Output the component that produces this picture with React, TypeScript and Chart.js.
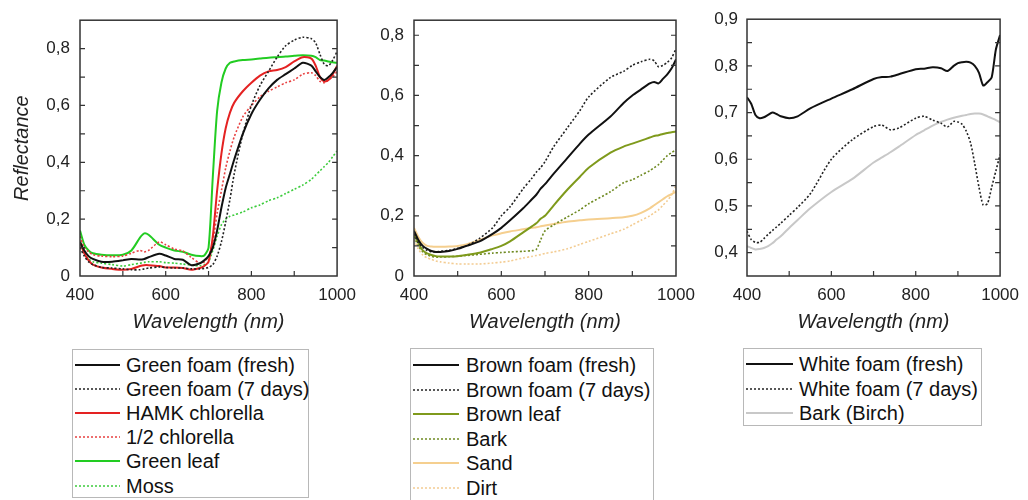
import React, { useEffect, useRef } from "react";
import { Chart, registerables } from "chart.js";

Chart.register(...registerables);

// ---------------- DATA ----------------
// Panel 1 wavelengths (nm)
const WL1 = [400, 410, 420, 430, 450, 475, 500, 520, 540, 550, 560, 585, 600, 620, 640, 660, 680, 690, 700, 710, 720, 730, 740, 750, 760, 780, 800, 820, 840, 860, 880, 900, 920, 940, 950, 960, 970, 980, 990, 1000];
const greenFoamFresh = [0.12, 0.09, 0.07, 0.06, 0.05, 0.05, 0.055, 0.06, 0.058, 0.06, 0.066, 0.078, 0.072, 0.06, 0.057, 0.038, 0.045, 0.055, 0.07, 0.10, 0.16, 0.24, 0.31, 0.36, 0.41, 0.50, 0.57, 0.62, 0.66, 0.69, 0.71, 0.73, 0.75, 0.74, 0.72, 0.70, 0.69, 0.70, 0.715, 0.735];
const greenFoam7 = [0.10, 0.07, 0.05, 0.04, 0.03, 0.028, 0.025, 0.022, 0.022, 0.025, 0.028, 0.032, 0.03, 0.028, 0.028, 0.025, 0.025, 0.027, 0.03, 0.04, 0.07, 0.12, 0.19, 0.27, 0.36, 0.50, 0.60, 0.67, 0.72, 0.77, 0.81, 0.83, 0.84, 0.835, 0.82, 0.78, 0.745, 0.74, 0.76, 0.79];
const hamkChlorella = [0.12, 0.08, 0.055, 0.04, 0.03, 0.025, 0.022, 0.025, 0.035, 0.038, 0.038, 0.035, 0.03, 0.03, 0.028, 0.022, 0.028, 0.035, 0.05, 0.14, 0.30, 0.43, 0.52, 0.575, 0.61, 0.65, 0.68, 0.705, 0.72, 0.725, 0.735, 0.755, 0.77, 0.765, 0.74, 0.70, 0.685, 0.69, 0.71, 0.74];
const halfChlorella = [0.14, 0.10, 0.085, 0.075, 0.07, 0.068, 0.07, 0.08, 0.09, 0.085, 0.09, 0.12, 0.11, 0.095, 0.088, 0.065, 0.045, 0.05, 0.07, 0.12, 0.22, 0.30, 0.38, 0.44, 0.49, 0.56, 0.60, 0.63, 0.65, 0.665, 0.68, 0.69, 0.71, 0.715, 0.705, 0.685, 0.68, 0.69, 0.70, 0.72];
const greenLeaf = [0.16, 0.11, 0.09, 0.08, 0.075, 0.073, 0.075, 0.09, 0.135, 0.15, 0.145, 0.11, 0.10, 0.09, 0.085, 0.075, 0.07, 0.072, 0.10, 0.35, 0.58, 0.68, 0.73, 0.75, 0.755, 0.76, 0.762, 0.765, 0.768, 0.77, 0.772, 0.775, 0.777, 0.775, 0.77, 0.76, 0.758, 0.755, 0.752, 0.75];
const moss = [0.12, 0.08, 0.06, 0.05, 0.045, 0.04, 0.035, 0.04, 0.045, 0.048, 0.05, 0.05, 0.047, 0.045, 0.042, 0.038, 0.036, 0.04, 0.05, 0.09, 0.14, 0.18, 0.20, 0.21, 0.215, 0.225, 0.24, 0.25, 0.265, 0.275, 0.29, 0.305, 0.32, 0.34, 0.355, 0.37, 0.385, 0.40, 0.42, 0.44];

// Panel 2 wavelengths (nm)
const WL2 = [400, 410, 420, 430, 440, 450, 460, 480, 500, 520, 550, 580, 600, 620, 650, 670, 680, 690, 700, 720, 750, 780, 800, 850, 880, 900, 920, 940, 950, 960, 970, 980, 990, 1000];
const brownFoamFresh = [0.15, 0.12, 0.10, 0.09, 0.083, 0.08, 0.08, 0.083, 0.09, 0.10, 0.115, 0.14, 0.16, 0.185, 0.225, 0.255, 0.27, 0.29, 0.305, 0.34, 0.39, 0.44, 0.47, 0.53, 0.575, 0.60, 0.62, 0.64, 0.645, 0.64, 0.655, 0.67, 0.69, 0.72];
const brownFoam7 = [0.14, 0.11, 0.095, 0.085, 0.08, 0.08, 0.082, 0.085, 0.092, 0.10, 0.125, 0.16, 0.20, 0.23, 0.29, 0.325, 0.345, 0.36, 0.38, 0.43, 0.49, 0.55, 0.595, 0.66, 0.68, 0.70, 0.712, 0.72, 0.715, 0.695, 0.70, 0.71, 0.725, 0.755];
const brownLeaf = [0.14, 0.11, 0.085, 0.075, 0.07, 0.066, 0.065, 0.065, 0.066, 0.07, 0.077, 0.09, 0.10, 0.115, 0.145, 0.165, 0.175, 0.19, 0.20, 0.235, 0.285, 0.33, 0.36, 0.41, 0.43, 0.44, 0.45, 0.46, 0.465, 0.468, 0.472, 0.475, 0.478, 0.48];
const bark = [0.13, 0.10, 0.08, 0.07, 0.065, 0.063, 0.063, 0.064, 0.066, 0.068, 0.072, 0.076, 0.078, 0.08, 0.082, 0.084, 0.088, 0.12, 0.15, 0.17, 0.195, 0.22, 0.24, 0.28, 0.31, 0.32, 0.335, 0.35, 0.36, 0.37, 0.385, 0.40, 0.41, 0.42];
const sand = [0.16, 0.13, 0.11, 0.10, 0.098, 0.097, 0.097, 0.098, 0.10, 0.105, 0.12, 0.135, 0.142, 0.148, 0.155, 0.16, 0.162, 0.165, 0.168, 0.173, 0.18, 0.185, 0.188, 0.192, 0.195, 0.20, 0.21, 0.225, 0.235, 0.245, 0.255, 0.265, 0.272, 0.28];
const dirt = [0.12, 0.09, 0.07, 0.06, 0.055, 0.05, 0.047, 0.043, 0.04, 0.04, 0.04, 0.043, 0.046, 0.05, 0.06, 0.065, 0.068, 0.071, 0.075, 0.08, 0.09, 0.105, 0.115, 0.14, 0.155, 0.17, 0.185, 0.20, 0.21, 0.22, 0.235, 0.25, 0.27, 0.30];

// Panel 3 wavelengths (nm)
const WL3 = [400, 410, 420, 430, 440, 450, 460, 470, 480, 500, 520, 550, 600, 650, 700, 720, 740, 760, 800, 820, 840, 860, 875, 890, 900, 910, 920, 930, 940, 950, 960, 970, 980, 990, 1000];
const whiteFoamFresh = [0.733, 0.719, 0.695, 0.688, 0.69, 0.695, 0.70, 0.697, 0.692, 0.688, 0.692, 0.709, 0.73, 0.75, 0.772, 0.776, 0.777, 0.782, 0.793, 0.794, 0.797, 0.795, 0.789, 0.80, 0.806, 0.808, 0.809, 0.807, 0.80, 0.785, 0.758, 0.765, 0.775, 0.835, 0.866];
const whiteFoam7 = [0.446, 0.428, 0.422, 0.422, 0.43, 0.439, 0.447, 0.455, 0.463, 0.48, 0.497, 0.526, 0.60, 0.642, 0.67, 0.673, 0.663, 0.667, 0.688, 0.692, 0.684, 0.677, 0.669, 0.681, 0.68, 0.675, 0.66, 0.635, 0.59, 0.54, 0.502, 0.505, 0.54, 0.575, 0.61];
const barkBirch = [0.414, 0.41, 0.407, 0.408, 0.41, 0.414, 0.42, 0.428, 0.435, 0.453, 0.47, 0.495, 0.53, 0.558, 0.593, 0.604, 0.615, 0.627, 0.652, 0.662, 0.672, 0.68, 0.685, 0.689, 0.691, 0.693, 0.695, 0.697, 0.698, 0.698, 0.696, 0.692, 0.688, 0.684, 0.679];

// Tick settings
const X_MIN = 400;
const X_MAX = 1000;
const X_STEP = 100;
const X_LABEL_STEP = 200;

// ---------------- STYLES ----------------
const FONT = "'Liberation Sans', Arial, sans-serif";
const TEXT = "#222";

type Series = { label: string; wl: number[]; values: number[]; color: string; dotted: boolean };

const panel1: Series[] = [
  { label: "Green foam (fresh)", wl: WL1, values: greenFoamFresh, color: "#111111", dotted: false },
  { label: "Green foam (7 days)", wl: WL1, values: greenFoam7, color: "#222222", dotted: true },
  { label: "HAMK chlorella", wl: WL1, values: hamkChlorella, color: "#e42222", dotted: false },
  { label: "1/2 chlorella", wl: WL1, values: halfChlorella, color: "#e84040", dotted: true },
  { label: "Green leaf", wl: WL1, values: greenLeaf, color: "#22cc22", dotted: false },
  { label: "Moss", wl: WL1, values: moss, color: "#3ccc3c", dotted: true },
];
const panel2: Series[] = [
  { label: "Brown foam (fresh)", wl: WL2, values: brownFoamFresh, color: "#111111", dotted: false },
  { label: "Brown foam (7 days)", wl: WL2, values: brownFoam7, color: "#222222", dotted: true },
  { label: "Brown leaf", wl: WL2, values: brownLeaf, color: "#7f9a1c", dotted: false },
  { label: "Bark", wl: WL2, values: bark, color: "#6f8a22", dotted: true },
  { label: "Sand", wl: WL2, values: sand, color: "#f5cf8f", dotted: false },
  { label: "Dirt", wl: WL2, values: dirt, color: "#f3cc92", dotted: true },
];
const panel3: Series[] = [
  { label: "White foam (fresh)", wl: WL3, values: whiteFoamFresh, color: "#111111", dotted: false },
  { label: "White foam (7 days)", wl: WL3, values: whiteFoam7, color: "#222222", dotted: true },
  { label: "Bark (Birch)", wl: WL3, values: barkBirch, color: "#c8c8c8", dotted: false },
];

const framePlugin = {
  id: "frameTicks",
  afterDatasetsDraw(chart: any) {
    const { ctx, chartArea } = chart;
    const { left, right, top, bottom } = chartArea;
    const xs = chart.scales.x;
    const ys = chart.scales.y;
    ctx.save();
    ctx.strokeStyle = "#333";
    ctx.lineWidth = 1.2;
    ctx.beginPath();
    xs.ticks.forEach((t: any) => {
      const px = xs.getPixelForValue(t.value);
      if (px <= left + 1 || px >= right - 1) return;
      ctx.moveTo(px, bottom);
      ctx.lineTo(px, bottom - 5);
    });
    ys.ticks.forEach((t: any) => {
      const py = ys.getPixelForValue(t.value);
      if (py <= top + 1 || py >= bottom - 1) return;
      ctx.moveTo(left, py);
      ctx.lineTo(left + 5, py);
      ctx.moveTo(right, py);
      ctx.lineTo(right - 5, py);
    });
    ctx.stroke();
    ctx.lineWidth = 1.5;
    ctx.strokeRect(left, top, right - left, bottom - top);
    ctx.restore();
  },
};

type PanelProps = {
  series: Series[];
  left: number;
  width: number;
  axisWidth: number;
  padRight: number;
  yMin: number;
  yMax: number;
  yStep: number;
  yLabelEvery: number; // in hundredths
  yTitle?: string;
  labelPad: number;
};

function fmtY(v: number, every: number) {
  const k = Math.round(v * 100);
  if (k % every !== 0) return "";
  if (k === 0) return "0";
  return (k / 100).toFixed(1).replace(".", ",");
}

function Panel(p: PanelProps) {
  const ref = useRef<HTMLCanvasElement | null>(null);
  useEffect(() => {
    if (!ref.current) return;
    const chart = new Chart(ref.current, {
      type: "line",
      data: {
        datasets: p.series.map((s) => ({
          label: s.label,
          data: s.wl.map((w, i) => ({ x: w, y: s.values[i] })),
          borderColor: s.color,
          backgroundColor: s.color,
          borderWidth: s.dotted ? 1.6 : 2,
          borderDash: s.dotted ? [2, 2] : [],
          pointRadius: 0,
          tension: 0.25,
          fill: false,
        })),
      },
      options: {
        animation: false,
        responsive: false,
        maintainAspectRatio: false,
        layout: { padding: { left: 0, top: 14, right: p.padRight, bottom: 0 } },
        plugins: { legend: { display: false }, tooltip: { enabled: false } },
        scales: {
          x: {
            type: "linear",
            min: X_MIN,
            max: X_MAX,
            afterFit: (scale: any) => {
              scale.height = 64;
            },
            ticks: {
              stepSize: X_STEP,
              autoSkip: false,
              maxRotation: 0,
              padding: 9,
              color: TEXT,
              font: { family: FONT, size: 17 },
              callback: (v: any) => (Math.round(Number(v)) % X_LABEL_STEP === 0 ? String(v) : ""),
            },
            grid: { display: false, drawTicks: false },
            border: { display: false },
            title: {
              display: true,
              text: "Wavelength (nm)",
              color: TEXT,
              font: { family: FONT, size: 20, style: "italic" },
              padding: { top: 0, bottom: 6 },
            },
          },
          y: {
            type: "linear",
            min: p.yMin,
            max: p.yMax,
            afterFit: (scale: any) => {
              scale.width = p.axisWidth;
            },
            ticks: {
              stepSize: p.yStep,
              includeBounds: false,
              autoSkip: false,
              padding: p.labelPad,
              color: TEXT,
              font: { family: FONT, size: 17 },
              callback: (v: any) => fmtY(Number(v), p.yLabelEvery),
            },
            grid: { display: false, drawTicks: false },
            border: { display: false },
            title: {
              display: !!p.yTitle,
              text: p.yTitle || "",
              color: TEXT,
              font: { family: FONT, size: 20, style: "italic" },
              padding: { top: 10, bottom: 0 },
            },
          },
        },
      },
      plugins: [framePlugin],
    } as any);
    return () => chart.destroy();
  }, []);
  return (
    <canvas
      ref={ref}
      width={p.width}
      height={340}
      style={{ position: "absolute", left: p.left, top: 0, width: p.width, height: 340 }}
    />
  );
}

type LegendProps = {
  series: Series[];
  left: number;
  top: number;
  width: number;
  height: number;
  firstCenter: number;
  spacing: number;
  lineLen: number;
  textOffset: number;
};

function Legend(p: LegendProps) {
  return (
    <div
      style={{
        position: "absolute",
        left: p.left,
        top: p.top,
        width: p.width,
        height: p.height,
        border: "1px solid #b8b8b8",
        boxSizing: "border-box",
        fontFamily: FONT,
        fontSize: 20,
        color: "#111",
      }}
    >
      {p.series.map((s, i) => {
        const cy = p.firstCenter + i * p.spacing;
        return (
          <div key={s.label} style={{ position: "absolute", left: 0, top: cy - 12, height: 24, width: "100%" }}>
            <svg width={p.lineLen + 2} height={24} style={{ position: "absolute", left: 1, top: 0 }}>
              <line
                x1={1}
                y1={12}
                x2={p.lineLen + 1}
                y2={12}
                stroke={s.color}
                strokeWidth={s.dotted ? 1.5 : 2}
                strokeDasharray={s.dotted ? "2,2" : undefined}
              />
            </svg>
            <span style={{ position: "absolute", left: p.textOffset, top: 0, lineHeight: "24px", whiteSpace: "nowrap" }}>
              {s.label}
            </span>
          </div>
        );
      })}
    </div>
  );
}

export default function App() {
  return (
    <div style={{ position: "absolute", left: 0, top: 0, width: 1028, height: 500, overflow: "hidden", background: "#fff" }}>
      <Panel series={panel1} left={0} width={365} axisWidth={80} padRight={22} yMin={0} yMax={0.9} yStep={0.1} yLabelEvery={20} yTitle="Reflectance" labelPad={10} />
      <Panel series={panel2} left={375} width={335} axisWidth={39} padRight={34} yMin={0} yMax={0.85} yStep={0.1} yLabelEvery={20} labelPad={10} />
      <Panel series={panel3} left={712} width={316} axisWidth={35} padRight={19} yMin={0.35} yMax={0.9} yStep={0.05} yLabelEvery={10} labelPad={9} />
      <Legend series={panel1} left={72} top={349} width={237} height={149} firstCenter={15} spacing={24.1} lineLen={45} textOffset={53} />
      <Legend series={panel2} left={410} top={348} width={244} height={170} firstCenter={16} spacing={24.6} lineLen={46} textOffset={55} />
      <Legend series={panel3} left={743} top={348} width={239} height={78} firstCenter={15} spacing={24.5} lineLen={47} textOffset={55} />
    </div>
  );
}
